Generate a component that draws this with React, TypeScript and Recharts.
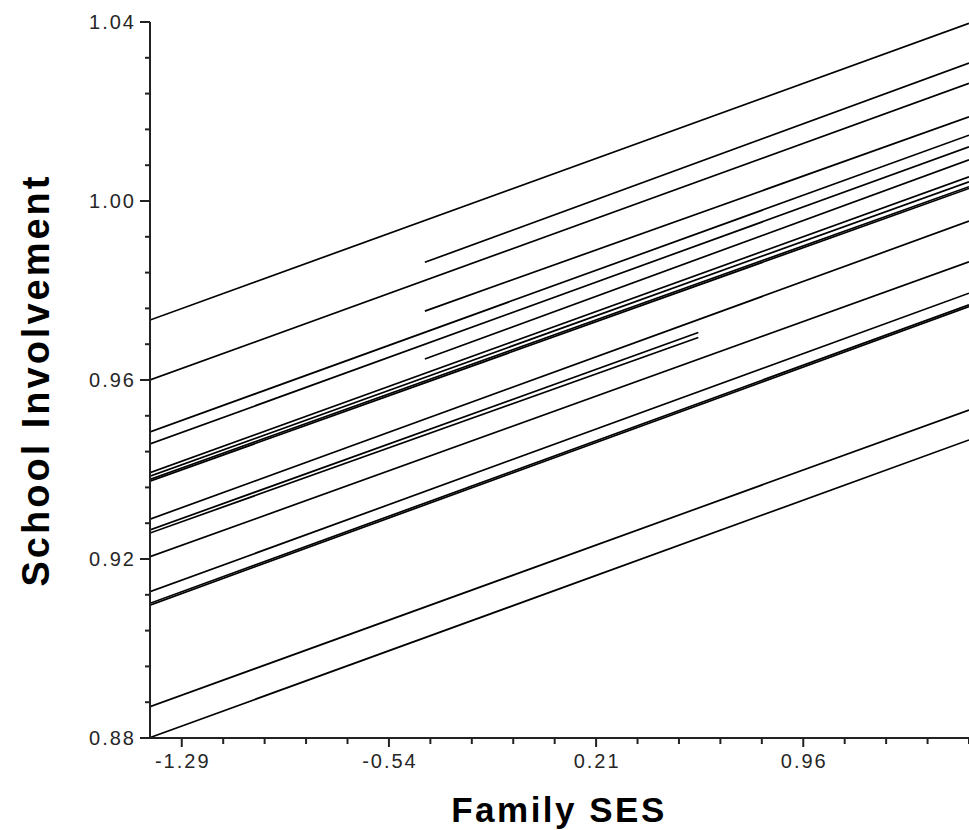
import { Line, LineChart, XAxis, YAxis } from "recharts";

// x range of the plot (Family SES)
const SES_LOW = -1.405;
const SES_HIGH = 1.56;
// some schools only span part of the range
const SES_UPPER_START = -0.41;
const SES_SHORT_END = 0.58;

const xTickLabels = [-1.29, -0.54, 0.21, 0.96];
const xTicks = [
  -1.29, -1.14, -0.99, -0.84, -0.69, -0.54, -0.39, -0.24, -0.09, 0.06, 0.21, 0.36, 0.51, 0.66, 0.81, 0.96, 1.11,
  1.26, 1.41, 1.56,
];
const yTickLabels = [0.88, 0.92, 0.96, 1.0, 1.04];
const yTicks = [
  0.88, 0.888, 0.896, 0.904, 0.912, 0.92, 0.928, 0.936, 0.944, 0.952, 0.96, 0.968, 0.976, 0.984, 0.992, 1.0, 1.008,
  1.016, 1.024, 1.032, 1.04,
];

// lines across the full SES range: value at low end, value at high end
const fullStart = [0.9734, 0.96, 0.9484, 0.9457, 0.9393, 0.9385, 0.9378, 0.9374, 0.9289, 0.9205, 0.9127, 0.9101, 0.9097, 0.887, 0.8801];
const fullEnd = [1.0397, 1.0263, 1.0147, 1.0121, 1.0054, 1.0043, 1.0032, 1.0028, 0.9955, 0.9864, 0.9794, 0.9768, 0.9764, 0.9533, 0.9466];

// lines starting mid-way and running to the high end
const upperStart = [0.9863, 0.9754, 0.9647];
const upperEnd = [1.0308, 1.0188, 1.0092];

// lines from the low end that stop mid-way
const shortStart = [0.9265, 0.9258];
const shortEnd = [0.9706, 0.9695];

type Pt = { ses: number; v: number };

const segments: Pt[][] = [
  ...fullStart.map((v, i) => [
    { ses: SES_LOW, v },
    { ses: SES_HIGH, v: fullEnd[i] },
  ]),
  ...upperStart.map((v, i) => [
    { ses: SES_UPPER_START, v },
    { ses: SES_HIGH, v: upperEnd[i] },
  ]),
  ...shortStart.map((v, i) => [
    { ses: SES_LOW, v },
    { ses: SES_SHORT_END, v: shortEnd[i] },
  ]),
];

const FONT = '"Liberation Sans", Arial, sans-serif';
const AXIS = "#222";
const TICK_TEXT = "#262626";

const isMajor = (list: number[], v: number) => list.some((t) => Math.abs(t - v) < 1e-6);

function XTick(props: any) {
  const { x, y, payload } = props;
  const major = isMajor(xTickLabels, payload.value);
  return (
    <g>
      <line x1={x} y1={y} x2={x} y2={y + (major ? 9 : 6)} stroke={AXIS} strokeWidth={2} />
      {major && (
        <text x={x + 1} y={y + 23} textAnchor="middle" dominantBaseline="central" fontFamily={FONT} fontSize={20} letterSpacing={2} fill={TICK_TEXT}>
          {payload.value.toFixed(2)}
        </text>
      )}
    </g>
  );
}

function YTick(props: any) {
  const { x, y, payload } = props;
  const major = isMajor(yTickLabels, payload.value);
  return (
    <g>
      <line x1={x} y1={y} x2={x - (major ? 10 : 5)} y2={y} stroke={AXIS} strokeWidth={2} />
      {major && (
        <text x={x - 14} y={y} textAnchor="end" dominantBaseline="central" fontFamily={FONT} fontSize={20} letterSpacing={2} fill={TICK_TEXT}>
          {payload.value.toFixed(2)}
        </text>
      )}
    </g>
  );
}

export default function App() {
  return (
    <div style={{ position: "absolute", left: 0, top: 0, width: 969, height: 830, background: "#fff" }}>
      <LineChart width={969} height={830} margin={{ top: 22, right: 0, bottom: 0, left: 0 }}>
        <XAxis
          type="number"
          dataKey="ses"
          domain={[SES_LOW, SES_HIGH]}
          ticks={xTicks}
          interval={0}
          allowDataOverflow
          height={92}
          tickSize={0}
          tickMargin={0}
          tickLine={false}
          axisLine={{ stroke: AXIS, strokeWidth: 2 }}
          tick={<XTick />}
          label={{
            content: () => (
              <text x={559} y={822} textAnchor="middle" fontFamily={FONT} fontWeight="bold" fontSize={35} letterSpacing={2.5} fill="#000">
                Family SES
              </text>
            ),
          }}
        />
        <YAxis
          type="number"
          dataKey="v"
          domain={[0.88, 1.04]}
          ticks={yTicks}
          interval={0}
          allowDataOverflow
          width={150}
          tickSize={0}
          tickMargin={0}
          tickLine={false}
          axisLine={{ stroke: AXIS, strokeWidth: 2 }}
          tick={<YTick />}
          label={{
            content: () => (
              <text
                x={36}
                y={380}
                transform="rotate(-90 36 380)"
                textAnchor="middle"
                dominantBaseline="central"
                fontFamily={FONT}
                fontWeight="bold"
                fontSize={38}
                letterSpacing={3}
                fill="#000"
              >
                School Involvement
              </text>
            ),
          }}
        />
        {segments.map((d, i) => (
          <Line
            key={i}
            data={d}
            dataKey="v"
            type="linear"
            stroke="#000"
            strokeWidth={1.7}
            dot={false}
            activeDot={false}
            isAnimationActive={false}
          />
        ))}
      </LineChart>
    </div>
  );
}
